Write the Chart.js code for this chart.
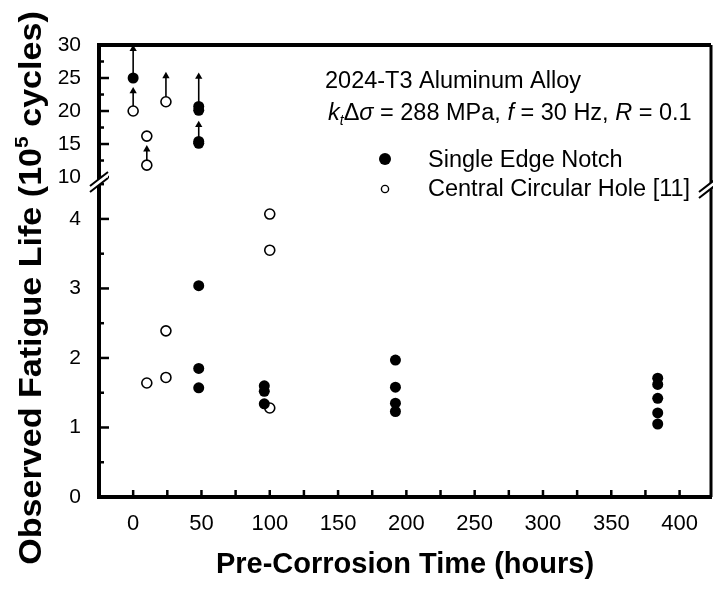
<!DOCTYPE html>
<html>
<head>
<meta charset="utf-8">
<script src="https://cdn.jsdelivr.net/npm/chart.js@4.4.0/dist/chart.umd.min.js"></script>
<style>
  html, body { margin: 0; padding: 0; background: #fff; overflow: hidden; }
  canvas { display: block; }
</style>
</head>
<body>
<canvas id="chart" width="713" height="593"></canvas>
<script>
const FONT = '"Liberation Sans", Arial, Helvetica, sans-serif'

// lower panel, life in 10^5 cycles
const senLowHours = [48, 48, 48, 96, 96, 96, 192, 192, 192, 192, 384, 384, 384, 384, 384]
const senLowLife = [3.04, 1.85, 1.57, 1.60, 1.52, 1.34, 1.97, 1.58, 1.35, 1.23, 1.71, 1.62, 1.42, 1.21, 1.05]
const cchLowHours = [10, 24, 24, 100, 100, 100]
const cchLowLife = [1.64, 2.39, 1.72, 4.07, 3.55, 1.28]

// upper panel (above the axis break)
const senHighHours = [0, 48, 48, 48, 48]
const senHighLife = [25.0, 20.7, 20.1, 15.4, 15.1]
const cchHighHours = [0, 10, 10, 24]
const cchHighLife = [20.0, 16.2, 11.8, 21.4]

// run-out arrows: from the point up to the arrow head
const arrowHours = [0, 0, 10, 24, 48, 48]
const arrowFrom = [25.0, 20.0, 11.8, 21.4, 20.7, 15.4]
const arrowTo = [29.4, 23.0, 14.2, 25.3, 25.2, 17.9]

// tick positions and the ones that carry a label
const xTickValues = [0, 25, 50, 75, 100, 125, 150, 175, 200, 225, 250, 275, 300, 325, 350, 375, 400]
const xLabelValues = [0, 50, 100, 150, 200, 250, 300, 350, 400]
const lowerTickValues = [0, 0.5, 1, 1.5, 2, 2.5, 3, 3.5, 4, 4.5]
const lowerLabelValues = [0, 1, 2, 3, 4]
const upperTickValues = [10, 12.5, 15, 17.5, 20, 22.5, 25, 27.5, 30]
const upperLabelValues = [10, 15, 20, 25, 30]

function points(xs, ys) {
    return xs.map((x, i) => ({ x: x, y: ys[i] }))
}

const filled = { pointRadius: 5.5, pointBackgroundColor: '#000', pointBorderColor: '#000', pointBorderWidth: 0, showLine: false }
const open = { pointRadius: 5, pointBackgroundColor: '#fff', pointBorderColor: '#000', pointBorderWidth: 1.6, showLine: false }

let datasets = [
    { label: 'Single Edge Notch', yAxisID: 'y', data: points(senLowHours, senLowLife), ...filled },
    { label: 'Central Circular Hole [11]', yAxisID: 'y', data: points(cchLowHours, cchLowLife), ...open },
    { label: 'Single Edge Notch', yAxisID: 'y2', data: points(senHighHours, senHighLife), ...filled },
    { label: 'Central Circular Hole [11]', yAxisID: 'y2', data: points(cchHighHours, cchHighLife), ...open },
]
// arrows go last so they are drawn under the markers
arrowHours.forEach((h, i) => {
    datasets.push({
        type: 'line',
        yAxisID: 'y2',
        data: [{ x: h, y: arrowFrom[i] }, { x: h, y: arrowTo[i] }],
        showLine: true,
        borderColor: '#000',
        borderWidth: 1.6,
        pointRadius: [0, 4.2],
        pointStyle: 'triangle',
        pointBackgroundColor: '#000',
        pointBorderColor: '#000',
        pointBorderWidth: 0,
        fill: false,
    })
})

// draws text pieces one after another, returns end x
function drawRuns(ctx, x, y, runs) {
    for (let r of runs) {
        ctx.font = r.font
        ctx.fillText(r.t, x, y + (r.dy || 0))
        x += ctx.measureText(r.t).width
    }
    return x
}

function runsWidth(ctx, runs) {
    let w = 0
    for (let r of runs) {
        ctx.font = r.font
        w += ctx.measureText(r.t).width
    }
    return w
}

function breakMark(ctx, x, y) {
    ctx.save()
    ctx.fillStyle = '#fff'
    ctx.beginPath()
    ctx.moveTo(x - 9, y + 4)
    ctx.lineTo(x + 9, y - 10)
    ctx.lineTo(x + 9, y - 4)
    ctx.lineTo(x - 9, y + 10)
    ctx.closePath()
    ctx.fill()
    ctx.lineWidth = 2
    ctx.beginPath()
    ctx.moveTo(x - 9, y + 4)
    ctx.lineTo(x + 9, y - 10)
    ctx.moveTo(x - 9, y + 10)
    ctx.lineTo(x + 9, y - 4)
    ctx.stroke()
    ctx.restore()
}

const decor = {
    id: 'decor',
    afterDraw(chart) {
        const ctx = chart.ctx
        const { left, right, top, bottom } = chart.chartArea
        const lo = chart.scales.y, hi = chart.scales.y2, xs = chart.scales.x
        ctx.save()
        ctx.strokeStyle = '#000'
        ctx.fillStyle = '#000'

        // top and right frame
        ctx.lineWidth = 4
        ctx.beginPath(); ctx.moveTo(left - 2, top); ctx.lineTo(right, top); ctx.stroke()
        ctx.lineWidth = 3
        ctx.beginPath(); ctx.moveTo(right, top); ctx.lineTo(right, bottom); ctx.stroke()

        // inward tick marks
        ctx.lineWidth = 2.5
        for (let t of lo.ticks) {
            let py = lo.getPixelForValue(t.value)
            let len = lowerLabelValues.includes(t.value) ? 10 : 5
            ctx.beginPath(); ctx.moveTo(left, py); ctx.lineTo(left + len, py); ctx.stroke()
        }
        for (let t of hi.ticks) {
            let py = hi.getPixelForValue(t.value)
            let len = upperLabelValues.includes(t.value) ? 10 : 5
            ctx.beginPath(); ctx.moveTo(left, py); ctx.lineTo(left + len, py); ctx.stroke()
        }
        for (let t of xs.ticks) {
            let px = xs.getPixelForValue(t.value)
            ctx.beginPath(); ctx.moveTo(px, bottom); ctx.lineTo(px, bottom - 7); ctx.stroke()
        }

        // axis break marks
        breakMark(ctx, left, hi.bottom + 2)
        breakMark(ctx, right - 3, hi.bottom + 8)

        // annotation
        ctx.textAlign = 'left'
        ctx.textBaseline = 'alphabetic'
        const f = '23.5px ' + FONT
        const fi = 'italic 23.5px ' + FONT
        drawRuns(ctx, 325, 88, [{ t: '2024-T3 Aluminum Alloy', font: f }])
        drawRuns(ctx, 328, 120, [
            { t: 'k', font: fi },
            { t: 't', font: 'italic 14px ' + FONT, dy: 5 },
            { t: 'Δ', font: f },
            { t: 'σ', font: fi },
            { t: ' = 288 MPa, ', font: f },
            { t: 'f', font: fi },
            { t: ' = 30 Hz, ', font: f },
            { t: 'R', font: fi },
            { t: ' = 0.1', font: f },
        ])

        // legend
        ctx.beginPath(); ctx.arc(385, 159, 6, 0, Math.PI * 2); ctx.fill()
        drawRuns(ctx, 428, 167, [{ t: 'Single Edge Notch', font: f }])
        ctx.lineWidth = 1.4
        ctx.beginPath(); ctx.arc(385, 189, 3.6, 0, Math.PI * 2); ctx.stroke()
        drawRuns(ctx, 428, 196, [{ t: 'Central Circular Hole [11]', font: f }])

        // y axis title, spans both panels
        const tb = 'bold 31px ' + FONT
        const title = [
            { t: 'Observed Fatigue Life (10', font: tb },
            { t: '5', font: 'bold 19px ' + FONT, dy: -13 },
            { t: ' cycles)', font: tb },
        ]
        ctx.translate(41, 288)
        ctx.rotate(-Math.PI / 2)
        ctx.scale(1.1, 1)
        drawRuns(ctx, -runsWidth(ctx, title) / 2, 0, title)
        ctx.restore()
    }
}

const tickFont = { family: FONT, size: 21 }

function fixedTicks(values) {
    return s => { s.ticks = values.map(v => ({ value: v })) }
}

function noPadding(s) {
    s.paddingLeft = 0
    s.paddingRight = 0
    s.paddingTop = 0
    s.paddingBottom = 0
}

new Chart(document.getElementById('chart'), {
    type: 'scatter',
    data: { datasets: datasets },
    options: {
        responsive: false,
        animation: false,
        layout: { autoPadding: false, padding: { top: 45, right: 2, left: 0, bottom: 0 } },
        plugins: {
            legend: { display: false },
            tooltip: { enabled: false },
        },
        scales: {
            x: {
                type: 'linear',
                bounds: 'data',
                min: -25,
                max: 423,
                afterBuildTicks: fixedTicks(xTickValues),
                afterFit: s => { s.height = 96; noPadding(s) },
                ticks: {
                    autoSkip: false,
                    maxRotation: 0,
                    padding: 14,
                    color: '#000',
                    font: { family: FONT, size: 22 },
                    callback: v => xLabelValues.includes(v) ? String(v) : '',
                },
                grid: { display: false, drawTicks: false },
                border: { display: true, color: '#000', width: 4 },
                title: {
                    display: true,
                    text: 'Pre-Corrosion Time (hours)',
                    color: '#000',
                    font: { family: FONT, size: 29, weight: 'bold' },
                    padding: { top: 0, bottom: 11 },
                },
            },
            y: {
                type: 'linear',
                position: 'left',
                stack: 'life',
                stackWeight: 317,
                bounds: 'data',
                min: 0,
                max: 4.56,
                afterBuildTicks: fixedTicks(lowerTickValues),
                afterFit: s => { s.width = 99; noPadding(s) },
                ticks: {
                    autoSkip: false,
                    padding: 18,
                    color: '#000',
                    font: tickFont,
                    callback: v => lowerLabelValues.includes(v) ? String(v) : '',
                },
                grid: { display: false, drawTicks: false },
                border: { display: true, color: '#000', width: 4 },
            },
            y2: {
                type: 'linear',
                position: 'left',
                stack: 'life',
                stackWeight: 135,
                bounds: 'data',
                min: 9.55,
                max: 30,
                afterBuildTicks: fixedTicks(upperTickValues),
                afterFit: s => { s.width = 99; noPadding(s) },
                ticks: {
                    autoSkip: false,
                    padding: 18,
                    color: '#000',
                    font: tickFont,
                    callback: v => upperLabelValues.includes(v) ? String(v) : '',
                },
                grid: { display: false, drawTicks: false },
                border: { display: true, color: '#000', width: 4 },
            },
        },
    },
    plugins: [decor],
})
</script>
</body>
</html>
